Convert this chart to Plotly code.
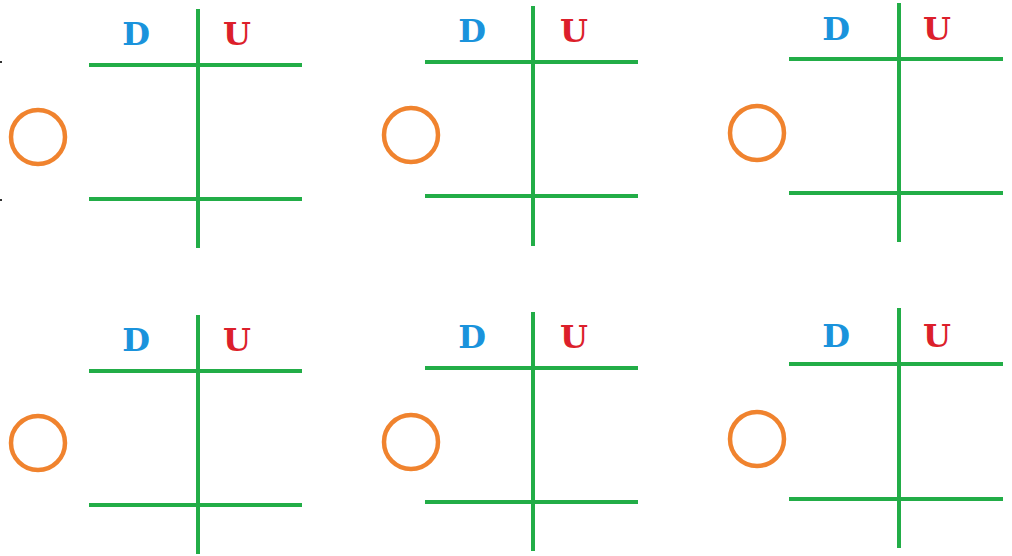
import plotly.graph_objects as go

# place-value grids (D = tens, U = units), pixel coordinates of the worksheet
grid_x = [198, 533, 899, 198, 533, 899]          # vertical divider
grid_left = [89, 425, 789, 89, 425, 789]
grid_right = [302, 638, 1003, 302, 638, 1003]
top_line = [65, 62, 59, 371, 368, 364]
bottom_line = [199, 196, 193, 505, 502, 499]
stem_top = [9, 6, 3, 315, 312, 308]
stem_bottom = [248, 246, 242, 554, 551, 548]

circle_x = [38, 411, 757, 38, 411, 757]
circle_y = [137, 135, 133, 443, 442, 439]

label_d_x = [136, 472, 836, 136, 472, 836]
label_u_x = [237, 574, 937, 237, 574, 937]
label_y = [37, 34, 32, 343, 340, 339]

edge_ticks_y = [62, 200]

GREEN = "#22ad47"
ORANGE = "#f0832e"
BLUE = "#1a93dc"
RED = "#dc1f2b"

fig = go.Figure()

lx, ly = [], []
for i in range(len(grid_x)):
    lx += [grid_left[i], grid_right[i], None, grid_left[i], grid_right[i], None,
           grid_x[i], grid_x[i], None]
    ly += [top_line[i], top_line[i], None, bottom_line[i], bottom_line[i], None,
           stem_top[i], stem_bottom[i], None]
fig.add_trace(go.Scatter(x=lx, y=ly, mode="lines",
                         line=dict(color=GREEN, width=4), hoverinfo="skip",
                         cliponaxis=False))

fig.add_trace(go.Scatter(x=circle_x, y=circle_y, mode="markers",
                         marker=dict(symbol="circle-open", size=54, color=ORANGE,
                                     line=dict(color=ORANGE, width=4.5)),
                         hoverinfo="skip", cliponaxis=False))

tx, ty = [], []
for y in edge_ticks_y:
    tx += [0, 2, None]
    ty += [y, y, None]
fig.add_trace(go.Scatter(x=tx, y=ty, mode="lines",
                         line=dict(color="#333333", width=2), hoverinfo="skip",
                         cliponaxis=False))

fig.add_trace(go.Scatter(x=label_d_x, y=label_y, mode="text", text=["D"] * 6,
                         textfont=dict(family="DejaVu Serif", size=32, color=BLUE,
                                       weight="bold"),
                         hoverinfo="skip", cliponaxis=False))
fig.add_trace(go.Scatter(x=label_u_x, y=label_y, mode="text", text=["U"] * 6,
                         textfont=dict(family="DejaVu Serif", size=32, color=RED,
                                       weight="bold"),
                         hoverinfo="skip", cliponaxis=False))

fig.update_layout(
    width=1012, height=556,
    margin=dict(l=0, r=0, t=0, b=0),
    paper_bgcolor="white", plot_bgcolor="white",
    showlegend=False,
    xaxis=dict(range=[0, 1012], visible=False, fixedrange=True),
    yaxis=dict(range=[556, 0], visible=False, fixedrange=True),
)

# drop the default page margin so the figure fills the window
fig.write_html("out.html", config={"displayModeBar": False},
               post_script="document.body.style.margin='0';document.body.style.overflow='hidden';")
